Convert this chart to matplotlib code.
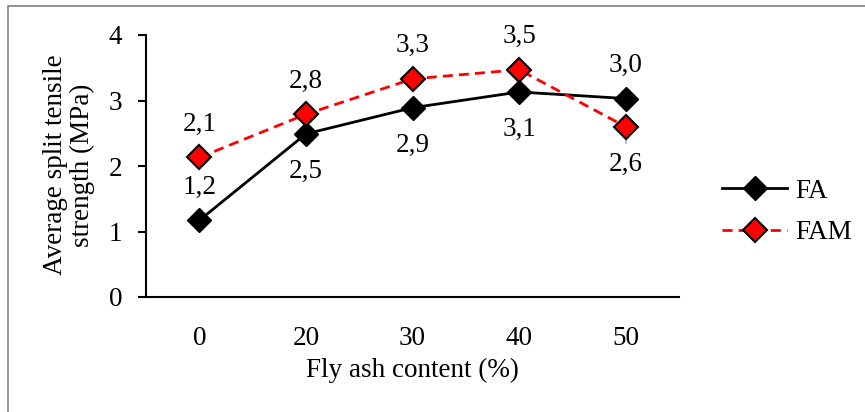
import matplotlib.pyplot as plt
from matplotlib.patches import Rectangle

plt.rcParams['font.family'] = ['Liberation Serif', 'DejaVu Serif']

categories = ["0", "20", "30", "40", "50"]
fa = [1.17, 2.49, 2.89, 3.13, 3.03]
fam = [2.13, 2.79, 3.33, 3.47, 2.60]
fam_err_low = [0, 0, 0, 0, 0.26]
fa_labels = ["1,2", "2,5", "2,9", "3,1", "3,0"]
fam_labels = ["2,1", "2,8", "3,3", "3,5", "2,6"]
# label above (+1) or below (-1) the point
fa_pos = [1, -1, -1, -1, 1]
fam_pos = [1, 1, 1, 1, -1]

FS = 19.5

fig = plt.figure(figsize=(8.65, 4.12), dpi=100)
ax = fig.add_axes([146/865, 1-297/412, (679-146)/865, (297-35)/412])

x = list(range(len(categories)))
ax.errorbar(x, fam, yerr=[fam_err_low, [0]*5], fmt='none', ecolor='#bfbfbf',
            elinewidth=1.5, capsize=0, zorder=1)
ax.plot(x, fa, color='black', lw=2, marker='D', ms=12, mfc='black', mec='black', label='FA', zorder=3)
ax.plot(x, fam, color='red', lw=2, ls=(0, (3.6, 2.2)), marker='D', ms=12, mfc='red', mec='black',
        mew=1.5, label='FAM', zorder=4)

for i in x:
    ax.annotate(fa_labels[i], (i, fa[i]), xytext=(0, 25*fa_pos[i] + (-1 if fa_pos[i] > 0 else -2)),
                textcoords='offset points', ha='center', va='center', fontsize=FS)
    ax.annotate(fam_labels[i], (i, fam[i]), xytext=(0, 25*fam_pos[i] + (-1 if fam_pos[i] > 0 else -2)),
                textcoords='offset points', ha='center', va='center', fontsize=FS)

ax.set_xlim(-0.5, 4.5)
ax.set_ylim(0, 4)
ax.set_yticks([0, 1, 2, 3, 4])
ax.set_xticks(x)
ax.set_xticklabels(categories)
ax.tick_params(axis='x', length=0, labelsize=FS, pad=21)
ax.tick_params(axis='y', length=6, width=1.5, labelsize=FS, pad=11)
for s in ['top', 'right']:
    ax.spines[s].set_visible(False)
for s in ['left', 'bottom']:
    ax.spines[s].set_linewidth(1.5)

fig.text(69/865, 1-165/412, "Average split tensile\nstrength (MPa)", rotation=90,
         ha='center', va='center', fontsize=FS, linespacing=1.05)
fig.text(412/865, 1-370/412, "Fly ash content (%)", ha='center', va='center', fontsize=FS)

ax.legend(loc='center left', bbox_to_anchor=(698/865, 1-212/412), bbox_transform=fig.transFigure,
          frameon=False, fontsize=FS, handlelength=2.4, labelspacing=0.6, handletextpad=0.3)

fig.patches.append(Rectangle((8/865, -0.05), 1.0, 1-6/412+0.05, transform=fig.transFigure,
                             fill=False, edgecolor='#808080', lw=1.2))

fig.savefig("out.png", dpi=100)
